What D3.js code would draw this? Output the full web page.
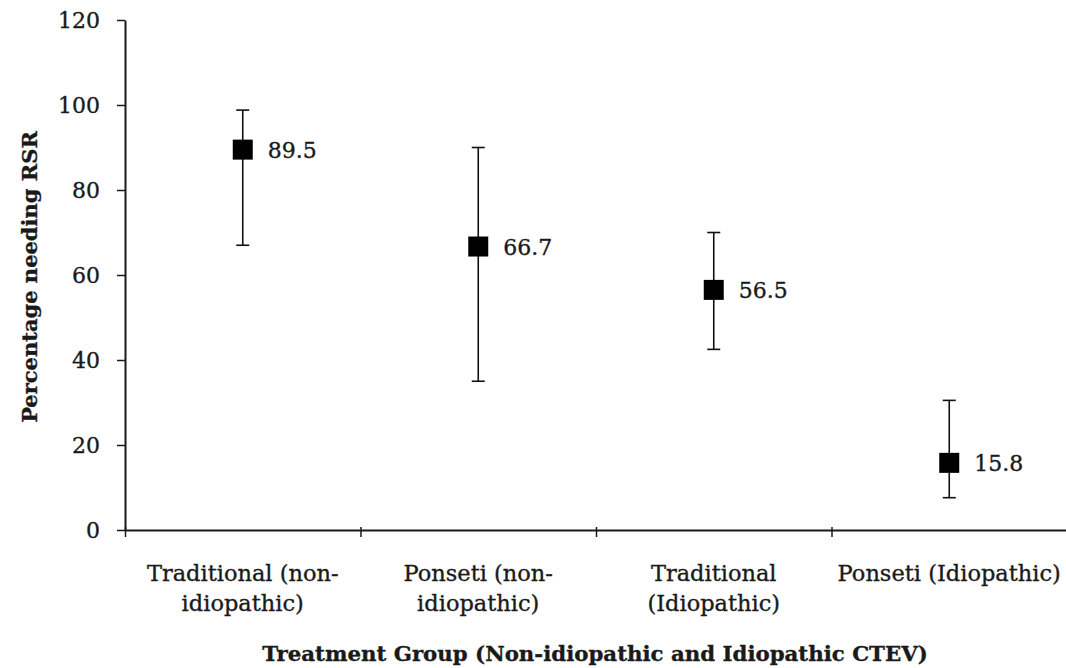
<!DOCTYPE html>
<html>
<head>
<meta charset="utf-8">
<script src="https://cdn.jsdelivr.net/npm/d3@7"></script>
<style>
    body { margin: 0; background: #fff; }
    svg text { font-family: "DejaVu Serif", serif; fill: #1a1a1a; stroke: #1a1a1a; stroke-width: 0.35px; }
</style>
</head>
<body>
<div class="svgContainer"></div>
<script>
// chart data
let categories = [
    ['Traditional (non-', 'idiopathic)'],
    ['Ponseti (non-', 'idiopathic)'],
    ['Traditional', '(Idiopathic)'],
    ['Ponseti (Idiopathic)']
];
let values = [89.5, 66.7, 56.5, 15.8];
let upper = [98.8, 90.0, 70.0, 30.5];
let lower = [67.0, 35.0, 42.5, 7.6];
let yTicks = [0, 20, 40, 60, 80, 100, 120];

let width = 1066;
let height = 668;
let margin = {
    top: 20,
    right: -1,
    bottom: 138,
    left: 125
};

let plotW = width - margin.left - margin.right;
let plotH = height - margin.top - margin.bottom;

let svg = d3.select('.svgContainer')
    .append('svg')
    .attr('width', width)
    .attr('height', height);

let g = svg.append('g')
    .attr('transform', 'translate(' + margin.left + ',' + margin.top + ')');

let keys = categories.map(function(c, i) { return i; });

let x = d3.scaleBand()
    .domain(keys)
    .range([0, plotW])
    .padding(0);

let y = d3.scaleLinear()
    .domain([0, 120])
    .range([plotH, 0]);

// y axis
let yAxis = g.append('g')
    .call(d3.axisLeft(y).tickValues(yTicks).tickSize(8).tickPadding(17).tickSizeOuter(0));
yAxis.select('.domain').attr('stroke', '#1a1a1a').attr('stroke-width', 2);
yAxis.selectAll('.tick line').attr('stroke', '#1a1a1a').attr('stroke-width', 1.5);
yAxis.selectAll('.tick text')
    .style('font-family', '"DejaVu Serif", serif')
    .style('font-size', '22px')
    .attr('fill', '#1a1a1a');

// x axis: ticks sit on the band boundaries
let xEdge = d3.scaleLinear()
    .domain([0, categories.length])
    .range([0, plotW]);

let xAxis = g.append('g')
    .attr('transform', 'translate(0,' + plotH + ')')
    .call(d3.axisBottom(xEdge).ticks(categories.length).tickSize(7).tickFormat('').tickSizeOuter(0));
xAxis.select('.domain').attr('stroke', '#1a1a1a').attr('stroke-width', 2);
xAxis.selectAll('.tick line').attr('stroke', '#1a1a1a').attr('stroke-width', 1.5)
    .attr('y1', -3);

// category labels
let catLabels = g.append('g')
    .selectAll('text')
    .data(categories)
    .enter()
    .append('text')
    .attr('x', function(d, i) { return x(i) + x.bandwidth() / 2; })
    .attr('y', plotH + 51)
    .attr('text-anchor', 'middle')
    .style('font-size', '22.5px');

catLabels.selectAll('tspan')
    .data(function(d) { return d; })
    .enter()
    .append('tspan')
    .attr('x', function() { return d3.select(this.parentNode).attr('x'); })
    .attr('dy', function(d, i) { return i === 0 ? 0 : 30; })
    .text(function(d) { return d; });

// error bars
let capW = 6.5;
let bars = g.append('g')
    .selectAll('g')
    .data(values)
    .enter()
    .append('g')
    .attr('transform', function(d, i) {
        return 'translate(' + (x(i) + x.bandwidth() / 2) + ',0)';
    })
    .attr('stroke', '#111')
    .attr('stroke-width', 1.6);

bars.append('line')
    .attr('x1', 0).attr('x2', 0)
    .attr('y1', function(d, i) { return y(upper[i]); })
    .attr('y2', function(d, i) { return y(lower[i]); });

bars.append('line')
    .attr('x1', -capW).attr('x2', capW)
    .attr('y1', function(d, i) { return y(upper[i]); })
    .attr('y2', function(d, i) { return y(upper[i]); });

bars.append('line')
    .attr('x1', -capW).attr('x2', capW)
    .attr('y1', function(d, i) { return y(lower[i]); })
    .attr('y2', function(d, i) { return y(lower[i]); });

// square markers
let sq = 20;
g.append('g')
    .selectAll('rect')
    .data(values)
    .enter()
    .append('rect')
    .attr('x', function(d, i) { return x(i) + x.bandwidth() / 2 - sq / 2; })
    .attr('y', function(d) { return y(d) - sq / 2; })
    .attr('width', sq)
    .attr('height', sq)
    .attr('fill', '#000');

// value labels
g.append('g')
    .selectAll('text')
    .data(values)
    .enter()
    .append('text')
    .attr('x', function(d, i) { return x(i) + x.bandwidth() / 2 + 25; })
    .attr('y', function(d) { return y(d) + 8; })
    .style('font-size', '22px')
    .text(function(d) { return d.toFixed(1); });

// axis titles
svg.append('text')
    .attr('transform', 'translate(37,277) rotate(-90)')
    .attr('text-anchor', 'middle')
    .style('font-size', '21px')
    .style('font-weight', 'bold')
    .text('Percentage needing RSR');

svg.append('text')
    .attr('x', 595)
    .attr('y', 661)
    .attr('text-anchor', 'middle')
    .style('font-size', '21.3px')
    .style('font-weight', 'bold')
    .text('Treatment Group (Non-idiopathic and Idiopathic CTEV)');
</script>
</body>
</html>
